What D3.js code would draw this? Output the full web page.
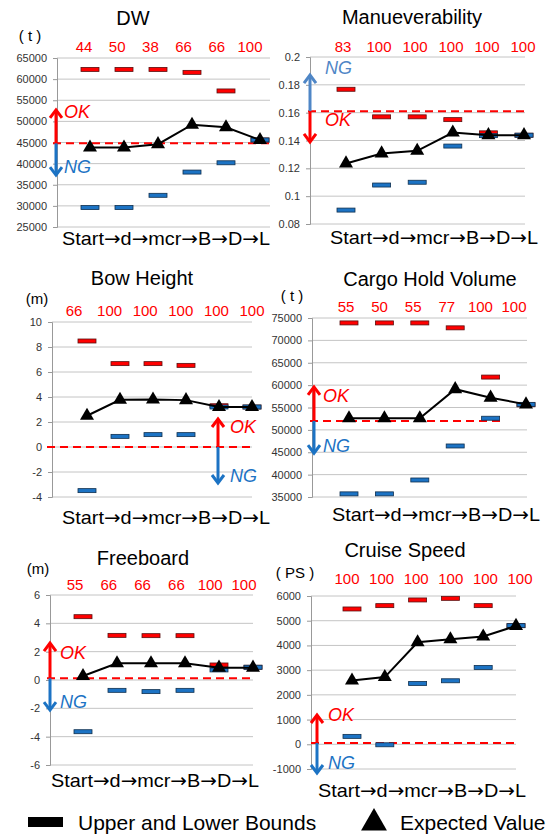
<!DOCTYPE html>
<html>
<head>
<meta charset="utf-8">
<script src="https://cdn.jsdelivr.net/npm/d3@7"></script>
<style>
  body { margin: 0; background: #fff; }
  svg { font-family: "Liberation Sans", Arial, sans-serif; }
</style>
</head>
<body>
<svg id="chart"></svg>
<script>
let w = 553
let h = 835
let svg = d3.select("#chart").attr("width", w).attr("height", h)

const stages = ["Start", "d", "mcr", "B", "D", "L"]

// DW
const dwUpper = [62300, 62300, 62300, 61600, 57200, 45600]
const dwLower = [29600, 29600, 32500, 38000, 40200, 45600]
const dwExpected = [43800, 43800, 44600, 49200, 48600, 45600]
const dwPct = [44, 50, 38, 66, 66, 100]
const dwTicks = [25000, 30000, 35000, 40000, 45000, 50000, 55000, 60000, 65000]
const dwLimit = 44800

// Manueverability
const manUpper = [0.1768, 0.157, 0.157, 0.155, 0.1455, 0.1438]
const manLower = [0.090, 0.108, 0.110, 0.136, 0.1435, 0.1438]
const manExpected = [0.1235, 0.1307, 0.1326, 0.1457, 0.1438, 0.1438]
const manPct = [83, 100, 100, 100, 100, 100]
const manTicks = [0.08, 0.1, 0.12, 0.14, 0.16, 0.18, 0.2]
const manLimit = 0.161

// Bow Height
const bowUpper = [8.48, 6.67, 6.67, 6.53, 3.3, 3.2]
const bowLower = [-3.49, 0.85, 0.99, 0.99, 3.2, 3.2]
const bowExpected = [2.5, 3.78, 3.8, 3.75, 3.2, 3.2]
const bowPct = [66, 100, 100, 100, 100, 100]
const bowTicks = [-4, -2, 0, 2, 4, 6, 8, 10]
const bowLimit = 0

// Cargo Hold Volume
const cargoUpper = [73900, 73900, 73900, 72800, 61800, 55600]
const cargoLower = [35700, 35700, 38800, 46400, 52600, 55700]
const cargoExpected = [52600, 52600, 52600, 59100, 57200, 55700]
const cargoPct = [55, 50, 55, 77, 100, 100]
const cargoTicks = [35000, 40000, 45000, 50000, 55000, 60000, 65000, 70000, 75000]
const cargoLimit = 52000

// Freeboard
const fbUpper = [4.47, 3.15, 3.13, 3.13, 1.06, 0.9]
const fbLower = [-3.65, -0.73, -0.82, -0.73, 0.71, 0.9]
const fbExpected = [0.28, 1.18, 1.18, 1.18, 0.87, 0.87]
const fbPct = [55, 66, 66, 66, 100, 100]
const fbTicks = [-6, -4, -2, 0, 2, 4, 6]
const fbLimit = 0.12

// Cruise Speed
const csUpper = [5475, 5610, 5840, 5905, 5610, 4800]
const csLower = [320, -20, 2460, 2570, 3110, 4800]
const csExpected = [2580, 2720, 4130, 4250, 4360, 4790]
const csPct = [100, 100, 100, 100, 100, 100]
const csTicks = [-1000, 0, 1000, 2000, 3000, 4000, 5000, 6000]
const csLimit = 50

const red = "#ff0000"
const blue = "#1c73c4"

const panels = [
  { title: "DW", unit: "( t )", upper: dwUpper, lower: dwLower, expected: dwExpected, pct: dwPct, ticks: dwTicks, limit: dwLimit,
    titleX: 133, titleY: 18, unitX: 30, unitY: 35, pctY: 46, pctRange: [84, 250],
    axisX: 57, right: 270, yTop: 58, yBot: 227, xRange: [90, 260], dashFrom: 53, dashTo: 270, labelX: 166, labelY: 238,
    arrowX: 56, up: { tip: 52700, color: red, text: "OK" }, down: { tip: 37300, color: blue, text: "NG" },
    textX: 64, upTextY: 112, downTextY: 167 },
  { title: "Manueverability", unit: "", upper: manUpper, lower: manLower, expected: manExpected, pct: manPct, ticks: manTicks, limit: manLimit,
    titleX: 412, titleY: 17, pctY: 46, pctRange: [343, 523],
    axisX: 310, right: 525, yTop: 57, yBot: 224, xRange: [346, 524], dashFrom: 308, dashTo: 525, labelX: 434, labelY: 237,
    arrowX: 310, up: { tip: 0.187, color: "#4f86c6", text: "NG" }, down: { tip: 0.139, color: red, text: "OK" },
    textX: 325, upTextY: 68, downTextY: 120 },
  { title: "Bow Height", unit: "(m)", upper: bowUpper, lower: bowLower, expected: bowExpected, pct: bowPct, ticks: bowTicks, limit: bowLimit,
    titleX: 142, titleY: 278, unitX: 37, unitY: 298, pctY: 310, pctRange: [74, 252],
    axisX: 52, right: 252, yTop: 322, yBot: 497, xRange: [87, 252], dashFrom: 47, dashTo: 252, labelX: 166, labelY: 517,
    arrowX: 218, up: { tip: 2.24, color: red, text: "OK" }, down: { tip: -2.88, color: blue, text: "NG" },
    textX: 230, upTextY: 427, downTextY: 476 },
  { title: "Cargo Hold Volume", unit: "( t )", upper: cargoUpper, lower: cargoLower, expected: cargoExpected, pct: cargoPct, ticks: cargoTicks, limit: cargoLimit,
    titleX: 430, titleY: 279, unitX: 292, unitY: 295, pctY: 306, pctRange: [346, 514],
    axisX: 312, right: 527, yTop: 318, yBot: 497, xRange: [349, 526], dashFrom: 310, dashTo: 502, labelX: 436, labelY: 514,
    arrowX: 314, up: { tip: 59600, color: red, text: "OK" }, down: { tip: 44800, color: blue, text: "NG" },
    textX: 323, upTextY: 396, downTextY: 446 },
  { title: "Freeboard", unit: "(m)", upper: fbUpper, lower: fbLower, expected: fbExpected, pct: fbPct, ticks: fbTicks, limit: fbLimit,
    titleX: 143, titleY: 558, unitX: 38, unitY: 568, pctY: 584, pctRange: [75, 244],
    axisX: 50, right: 253, yTop: 595, yBot: 765, xRange: [83, 253], dashFrom: 47, dashTo: 253, labelX: 155, labelY: 780,
    arrowX: 50, up: { tip: 2.61, color: red, text: "OK" }, down: { tip: -2.12, color: blue, text: "NG" },
    textX: 60, upTextY: 653, downTextY: 702 },
  { title: "Cruise Speed", unit: "( PS )", upper: csUpper, lower: csLower, expected: csExpected, pct: csPct, ticks: csTicks, limit: csLimit,
    titleX: 405, titleY: 550, unitX: 295, unitY: 572, pctY: 578, pctRange: [347, 520],
    axisX: 311, right: 516, yTop: 596, yBot: 769, xRange: [352, 516], dashFrom: 311, dashTo: 516, labelX: 422, labelY: 790,
    arrowX: 317, up: { tip: 1185, color: red, text: "OK" }, down: { tip: -1162, color: blue, text: "NG" },
    textX: 328, upTextY: 715, downTextY: 763 }
]

let drawArrow = (g, x, y0, y1, color) => {
  let dir = y1 < y0 ? 1 : -1
  g.append("line")
   .attr("x1", x).attr("x2", x)
   .attr("y1", y0).attr("y2", y1 + dir * 1)
   .attr("stroke", color).attr("stroke-width", 3)
  g.append("path")
   .attr("d", `M${x - 6},${y1 + dir * 8} L${x},${y1} L${x + 6},${y1 + dir * 8}`)
   .attr("fill", "none").attr("stroke", color).attr("stroke-width", 3)
}

let drawPanel = (p) => {
  let y = d3.scaleLinear().domain(d3.extent(p.ticks)).range([p.yBot, p.yTop])
  let x = d3.scalePoint().domain(stages).range(p.xRange)
  let xPct = d3.scalePoint().domain(stages).range(p.pctRange)
  let g = svg.append("g")

  g.selectAll(".grid")
   .data(p.ticks)
   .enter()
   .append("line")
   .attr("x1", p.axisX).attr("x2", p.right)
   .attr("y1", (d) => y(d)).attr("y2", (d) => y(d))
   .attr("stroke", "#c4c4c4").attr("stroke-width", 1)

  let axis = g.append("g")
   .attr("transform", `translate(${p.axisX}, 0)`)
   .call(d3.axisLeft(y).tickValues(p.ticks).tickSize(4).tickPadding(6).tickFormat((d) => String(d)))
  axis.select(".domain").attr("stroke", "#999")
  axis.selectAll(".tick line").attr("stroke", "#999")
  axis.selectAll(".tick text").attr("fill", "#333").style("font-size", "11px").style("font-family", "Liberation Sans, Arial, sans-serif")

  // threshold
  g.append("line")
   .attr("x1", p.dashFrom).attr("x2", p.dashTo)
   .attr("y1", y(p.limit)).attr("y2", y(p.limit))
   .attr("stroke", red).attr("stroke-width", 2).attr("stroke-dasharray", "8,5")

  // bounds
  let bw = 18, bh = 4
  g.selectAll(".upper")
   .data(p.upper)
   .enter()
   .append("rect")
   .attr("x", (d, i) => x(stages[i]) - bw / 2)
   .attr("y", (d) => y(d) - bh / 2)
   .attr("width", bw).attr("height", bh)
   .attr("fill", red).attr("stroke", "#5a1010").attr("stroke-width", 0.8)
  g.selectAll(".lower")
   .data(p.lower)
   .enter()
   .append("rect")
   .attr("x", (d, i) => x(stages[i]) - bw / 2)
   .attr("y", (d) => y(d) - bh / 2)
   .attr("width", bw).attr("height", bh)
   .attr("fill", blue).attr("stroke", "#10304f").attr("stroke-width", 0.8)

  // expected value
  let line = d3.line().x((d, i) => x(stages[i])).y((d) => y(d))
  g.append("path")
   .datum(p.expected)
   .attr("d", line)
   .attr("fill", "none").attr("stroke", "#000").attr("stroke-width", 2)
  g.selectAll(".tri")
   .data(p.expected)
   .enter()
   .append("path")
   .attr("d", d3.symbol().type(d3.symbolTriangle).size(85))
   .attr("transform", (d, i) => `translate(${x(stages[i])}, ${y(d)})`)
   .attr("fill", "#000")

  // OK / NG arrows
  drawArrow(g, p.arrowX, y(p.limit), y(p.up.tip), p.up.color)
  drawArrow(g, p.arrowX, y(p.limit), y(p.down.tip), p.down.color)
  g.append("text").text(p.up.text)
   .attr("x", p.textX).attr("y", p.upTextY).attr("dominant-baseline", "central")
   .attr("fill", p.up.color).style("font-size", "18px").style("font-style", "italic")
  g.append("text").text(p.down.text)
   .attr("x", p.textX).attr("y", p.downTextY).attr("dominant-baseline", "central")
   .attr("fill", p.down.color).style("font-size", "18px").style("font-style", "italic")

  // percentages
  g.selectAll(".pct")
   .data(p.pct)
   .enter()
   .append("text")
   .text((d) => d)
   .attr("x", (d, i) => xPct(stages[i]))
   .attr("y", p.pctY)
   .attr("text-anchor", "middle").attr("dominant-baseline", "central")
   .attr("fill", red).style("font-size", "15px")

  g.append("text").text(p.title)
   .attr("x", p.titleX).attr("y", p.titleY)
   .attr("text-anchor", "middle").attr("dominant-baseline", "central")
   .style("font-size", "20px")
  if (p.unit) {
    g.append("text").text(p.unit)
     .attr("x", p.unitX).attr("y", p.unitY)
     .attr("text-anchor", "middle").attr("dominant-baseline", "central")
     .style("font-size", "15px")
  }

  // Start→d→mcr→B→D→L, arrows taken from DejaVu for a wider glyph
  let lbl = g.append("text")
   .attr("x", p.labelX).attr("y", p.labelY)
   .attr("text-anchor", "middle").attr("dominant-baseline", "central")
   .attr("textLength", 208).attr("lengthAdjust", "spacingAndGlyphs")
   .style("font-size", "19px")
  stages.forEach((s, i) => {
    if (i > 0) lbl.append("tspan").text("→").style("font-family", "DejaVu Sans")
    lbl.append("tspan").text(s)
  })
}

panels.forEach(drawPanel)

// legend
svg.append("rect")
   .attr("x", 28).attr("y", 817).attr("width", 35).attr("height", 10)
   .attr("fill", "#000")
svg.append("text").text("Upper and Lower Bounds")
   .attr("x", 78).attr("y", 822).attr("dominant-baseline", "central")
   .style("font-size", "21px")
svg.append("path")
   .attr("d", d3.symbol().type(d3.symbolTriangle).size(290))
   .attr("transform", "translate(374, 823)")
   .attr("fill", "#000")
svg.append("text").text("Expected Value")
   .attr("x", 400).attr("y", 822).attr("dominant-baseline", "central")
   .style("font-size", "21px")
</script>
</body>
</html>
